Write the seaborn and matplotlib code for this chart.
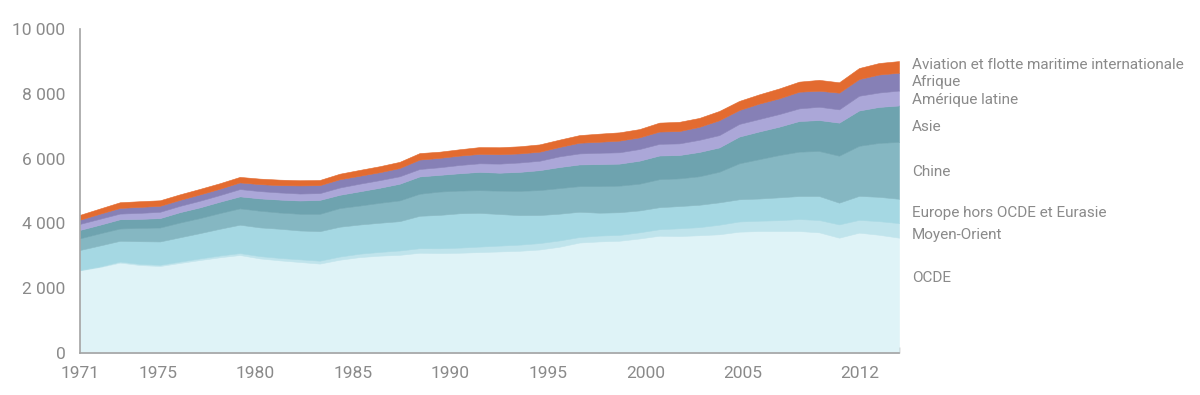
# plot.py
# Consommation finale totale par région, 1971-2012 (Mtep) - aires empilées.

import numpy as np
import matplotlib
matplotlib.use("Agg")
import matplotlib.pyplot as plt
from matplotlib.ticker import FixedLocator, FuncFormatter
import seaborn as sns

# ── data ──────────────────────────────────────────────────────────────────────
years = list(range(1971, 2013))

ocde = [2550, 2655, 2790, 2715, 2685, 2780, 2870, 2955, 3025, 2920,
        2860, 2810, 2760, 2880, 2960, 3005, 3030, 3095, 3085, 3095,
        3115, 3135, 3155, 3195, 3280, 3410, 3445, 3465, 3535, 3620,
        3610, 3635, 3665, 3745, 3765, 3765, 3765, 3725, 3560, 3715,
        3650, 3560]
moyen_orient = [15, 20, 33, 35, 38, 42, 50, 55, 60, 72,
                75, 82, 90, 98, 106, 115, 135, 140, 148, 158,
                170, 180, 190, 198, 195, 170, 180, 180, 190, 200,
                240, 250, 295, 315, 318, 335, 370, 380, 410, 395,
                420, 450]
europe_eurasie = [615, 645, 640, 700, 720, 750, 780, 825, 875, 885,
                  900, 890, 910, 920, 900, 900, 905, 1000, 1030, 1060,
                  1040, 975, 910, 865, 825, 780, 705, 700, 675, 680,
                  685, 690, 690, 685, 685, 705, 710, 740, 670, 740,
                  750, 750]
chine = [360, 375, 380, 410, 430, 455, 465, 485, 505, 515,
         500, 515, 535, 575, 585, 615, 640, 680, 720, 700,
         700, 720, 750, 770, 790, 790, 820, 820, 825, 865,
         855, 880, 945, 1110, 1215, 1305, 1370, 1390, 1450, 1545,
         1665, 1755]
asie = [260, 265, 285, 280, 290, 320, 330, 350, 370, 380,
        400, 410, 430, 410, 440, 465, 515, 535, 515, 535,
        565, 555, 585, 615, 650, 670, 680, 680, 710, 730,
        720, 750, 750, 825, 855, 875, 945, 955, 1020, 1090,
        1110, 1125]
amerique_latine = [185, 185, 175, 185, 195, 195, 205, 205, 225, 225,
                   220, 215, 210, 225, 235, 235, 230, 230, 235, 255,
                   265, 280, 290, 290, 330, 340, 350, 350, 360, 360,
                   360, 375, 380, 390, 385, 390, 390, 410, 410, 455,
                   445, 460]
afrique = [130, 155, 175, 185, 185, 185, 195, 195, 205, 215,
           225, 250, 245, 255, 245, 245, 255, 290, 290, 290,
           290, 290, 280, 280, 290, 330, 340, 360, 360, 380,
           380, 400, 460, 430, 475, 485, 515, 495, 515, 515,
           555, 550]
aviation = [150, 160, 175, 175, 170, 170, 170, 170, 170, 170,
            170, 160, 160, 170, 180, 185, 190, 200, 190, 195,
            210, 215, 220, 225, 225, 235, 250, 255, 255, 275,
            285, 275, 285, 280, 285, 305, 310, 335, 320, 340,
            355, 360]

series_names = ["OCDE", "Moyen-Orient", "Europe hors OCDE et Eurasie", "Chine",
                "Asie", "Amérique latine", "Afrique",
                "Aviation et flotte maritime internationale"]
series_colors = ["#dff3f7", "#c0e4ec", "#a5d8e3", "#85b7c2",
                 "#6ea3af", "#aba7d8", "#8680b6", "#e36b30"]
# label heights on the right (y in data units)
label_y = [2300, 3650, 4330, 5600, 6990, 7820, 8350, 8880]

tick_years = [1971, 1975, 1980, 1985, 1990, 1995, 2000, 2005, 2011]
tick_labels = ["1971", "1975", "1980", "1985", "1990", "1995", "2000", "2005", "2012"]

TEXT = "#8a8a8a"
AXIS = "#a3a3a3"

# ── style ─────────────────────────────────────────────────────────────────────
sns.set_theme(style="white")
plt.rcParams["font.family"] = ["Roboto", "DejaVu Sans"]

fig = plt.figure(figsize=(12, 3.95), dpi=100)
ax = fig.add_axes([80 / 1200, 1 - 353 / 395, 819 / 1200, 324 / 395])

stack = [ocde, moyen_orient, europe_eurasie, chine, asie,
         amerique_latine, afrique, aviation]
ax.stackplot(years, *stack, colors=series_colors,
             edgecolor="face", linewidth=0.4)

ax.set_xlim(1971, 2012)
ax.set_ylim(0, 10000)

# y axis
ax.yaxis.set_major_locator(FixedLocator(range(0, 10001, 2000)))
ax.yaxis.set_major_formatter(FuncFormatter(lambda v, _: f"{int(v):,}".replace(",", " ")))
ax.tick_params(axis="y", which="major", direction="out", length=4.5, width=1,
               color=AXIS, labelcolor=TEXT, labelsize=12.5, pad=6)

# x axis: labels without marks, one small inward mark per year
# (labels in the source sit on a slightly compressed scale)
ax.xaxis.set_major_locator(FixedLocator(
    [1971 + (y - 1971) * 41 / 42 for y in tick_years]))
ax.set_xticklabels(tick_labels)
ax.xaxis.set_minor_locator(FixedLocator(years[1:]))
ax.tick_params(axis="x", which="major", length=0, labelcolor=TEXT,
               labelsize=12.5, pad=9)
ax.tick_params(axis="x", which="minor", direction="in", length=4, width=1,
               color=AXIS, bottom=True)

for side in ["top", "right"]:
    ax.spines[side].set_visible(False)
for side in ["left", "bottom"]:
    ax.spines[side].set_color(AXIS)
    ax.spines[side].set_linewidth(1.2)
ax.grid(False)

# right-hand labels
trans = ax.get_yaxis_transform()
for name, y in zip(series_names, label_y):
    ax.text(1.016, y, name, transform=trans, ha="left", va="center",
            color=TEXT, fontsize=11, clip_on=False)

fig.savefig("out.png", dpi=100)
